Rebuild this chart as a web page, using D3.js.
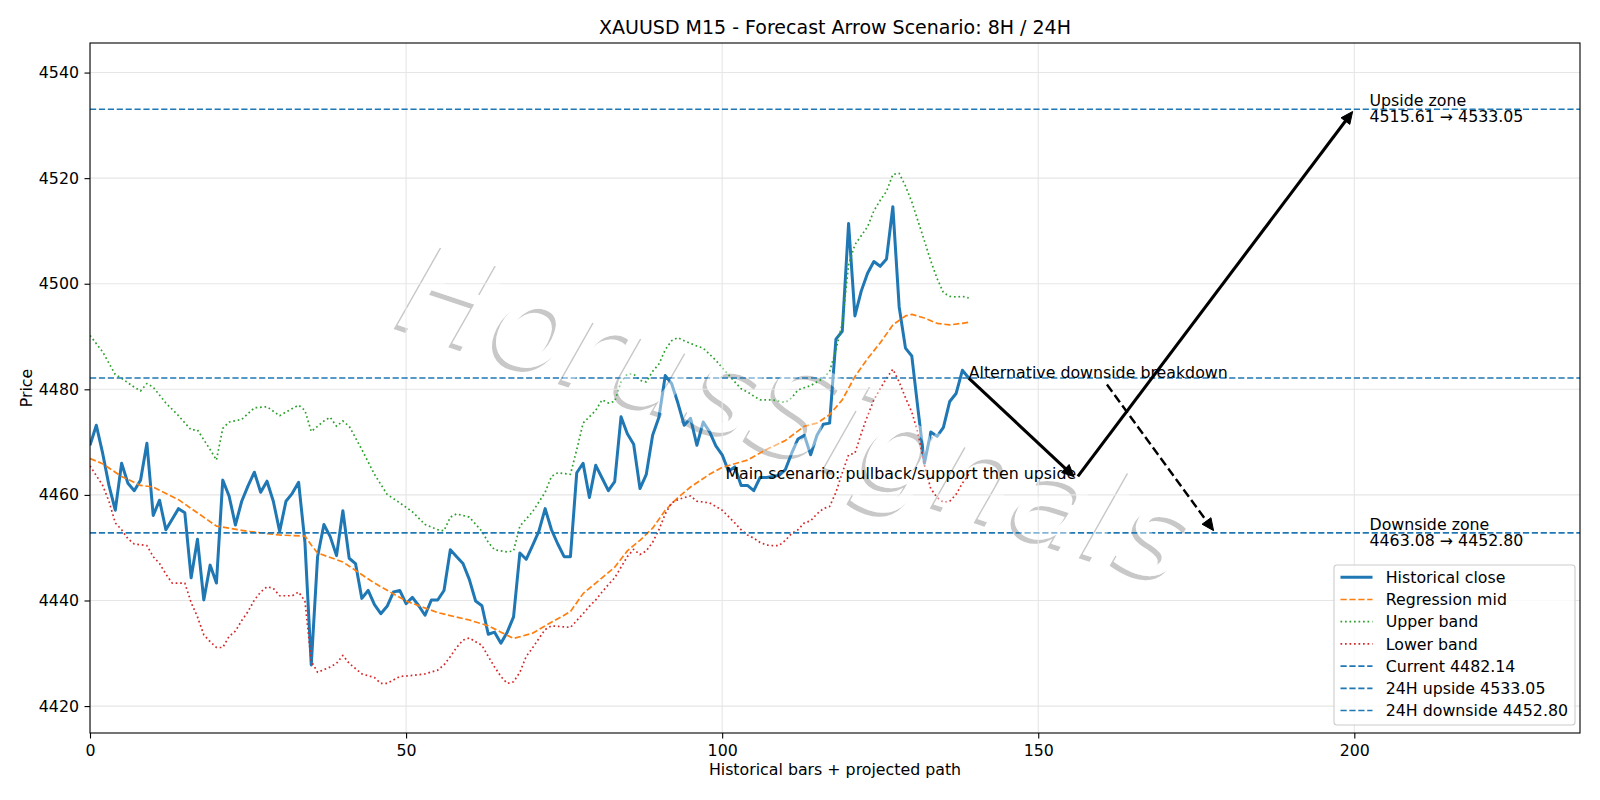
<!DOCTYPE html>
<meta charset="utf-8">
<style>
    body { margin: 0; background: #ffffff; }
    svg { display: block; font-family: "DejaVu Sans", sans-serif; }
</style>

<script src="https://d3js.org/d3.v7.min.js"></script>

<svg id="chart" width="1600" height="800"></svg>

<script>

// Data

var closeVals = [
    4469.4, 4473.2, 4467.9, 4461.8, 4457.1, 4466.0, 4462.2, 4460.8, 4462.8, 4469.8,
    4456.1, 4459.0, 4453.4, 4455.4, 4457.4, 4456.6, 4444.3, 4451.6, 4440.1, 4446.7,
    4443.3, 4462.8, 4459.8, 4454.3, 4458.8, 4461.7, 4464.3, 4460.5, 4462.6, 4458.8,
    4453.1, 4458.8, 4460.3, 4462.4, 4451.0, 4427.8, 4448.3, 4454.4, 4452.1, 4448.5,
    4457.0, 4448.0, 4447.0, 4440.4, 4441.9, 4439.2, 4437.5, 4438.9, 4441.6, 4441.9,
    4439.4, 4440.6, 4439.0, 4437.2, 4440.1, 4440.1, 4441.9, 4449.6, 4448.3, 4447.0,
    4444.0, 4439.9, 4439.0, 4433.6, 4434.0, 4431.9, 4434.0, 4436.9, 4449.0, 4447.8,
    4450.4, 4453.1, 4457.4, 4453.4, 4450.7, 4448.3, 4448.3, 4464.2, 4466.0, 4459.5,
    4465.6, 4463.2, 4460.8, 4462.5, 4474.8, 4471.6, 4469.6, 4461.2, 4463.9, 4471.3,
    4474.7, 4482.6, 4481.1, 4477.4, 4473.2, 4474.5, 4469.4, 4473.8, 4472.0, 4469.3,
    4467.6, 4464.5, 4465.3, 4461.8, 4461.8, 4460.8, 4463.3, 4463.3, 4463.5, 4463.7,
    4464.8, 4467.9, 4470.6, 4471.3, 4467.6, 4471.3, 4473.4, 4473.6, 4489.5, 4491.0,
    4511.4, 4493.9, 4498.6, 4502.0, 4504.2, 4503.3, 4504.7, 4514.6, 4495.6, 4487.8,
    4486.3, 4476.0, 4466.0, 4471.9, 4471.1, 4472.8, 4477.7, 4479.2, 4483.6, 4482.14
];

var midX = [0, 2, 5, 8, 10, 14, 20, 25, 30, 34, 35, 36, 40, 45, 50, 55, 60, 63, 65, 67,
    70, 72, 75, 76, 78, 80, 83, 85, 87, 89, 91, 93, 95, 98, 100, 104, 107, 110, 113, 115,
    117, 119, 121, 123, 125, 127, 129, 130, 132, 134, 136, 138, 139];
var midVals = [4466.9, 4465.9, 4463.5, 4461.8, 4461.5, 4459.1, 4454.1, 4453.1, 4452.4, 4452.2,
    4450.5, 4449.0, 4447.3, 4443.3, 4439.9, 4437.7, 4436.3, 4435.2, 4434.0, 4432.8,
    4433.8, 4435.2, 4437.2, 4437.9, 4441.3, 4443.3, 4446.3, 4449.4, 4451.4, 4453.7,
    4457.1, 4459.5, 4461.5, 4463.9, 4465.2, 4466.6, 4468.6, 4470.3, 4473.0, 4473.6,
    4475.2, 4478.0, 4482.4, 4485.8, 4488.8, 4492.2, 4493.9, 4494.2, 4493.5, 4492.5,
    4492.2, 4492.5, 4492.7];

var upperX = [0, 2, 4, 5, 7, 8, 9, 10, 12, 14, 16, 17, 19, 20, 21, 22, 24, 26, 28, 30,
    31, 33, 34, 35, 37, 38, 39, 40, 41, 43, 45, 47, 49, 51, 53, 55, 56, 57, 58, 60,
    62, 63, 64, 66, 67, 68, 70, 72, 73, 74, 76, 77, 78, 80, 81, 82, 83, 84, 85, 86,
    87, 88, 89, 90, 91, 92, 93, 94, 96, 97, 99, 100, 102, 103, 104, 105, 106, 108, 110, 111,
    112, 114, 116, 117, 118, 119, 120, 121, 122, 123, 124, 125, 126, 127, 128, 129, 130, 131, 132, 133,
    134, 135, 136, 137, 138, 139];
var upperVals = [4490.2, 4487.1, 4482.8, 4482.1, 4480.4, 4479.7, 4481.1, 4480.4, 4477.4, 4475.0,
    4472.3, 4472.3, 4468.6, 4466.6, 4472.6, 4473.8, 4474.3, 4476.5, 4476.7, 4475.0,
    4475.7, 4477.0, 4476.0, 4472.0, 4474.0, 4474.7, 4473.0, 4474.0, 4473.0, 4468.6,
    4463.9, 4460.1, 4458.5, 4456.8, 4454.4, 4453.4, 4453.2, 4455.8, 4456.4, 4455.8,
    4453.1, 4451.0, 4449.6, 4449.2, 4449.4, 4454.1, 4456.8, 4460.5, 4463.5, 4464.2,
    4463.9, 4468.6, 4473.6, 4476.0, 4478.0, 4477.4, 4477.7, 4481.4, 4482.9, 4482.9,
    4481.7, 4481.4, 4483.4, 4484.8, 4487.5, 4489.2, 4489.8, 4489.2, 4488.2, 4487.8,
    4485.5, 4484.1, 4481.4, 4480.1, 4479.5, 4478.7, 4478.0, 4478.0, 4477.5, 4478.4,
    4479.9, 4480.7, 4482.1, 4483.4, 4487.5, 4492.5, 4503.6, 4507.4, 4509.1, 4510.8,
    4513.8, 4515.8, 4517.5, 4520.7, 4520.9, 4518.5, 4515.5, 4511.8, 4508.1, 4504.3,
    4501.0, 4498.3, 4497.6, 4497.5, 4497.6, 4497.3];

var lowerX = [0, 2, 3, 4, 5, 6, 7, 9, 10, 11, 12, 13, 15, 16, 17, 18, 19, 20, 21, 22,
    23, 24, 25, 26, 27, 28, 29, 30, 32, 33, 34, 35, 36, 38, 39, 40, 41, 43, 45, 46,
    47, 49, 51, 53, 55, 56, 57, 58, 59, 60, 61, 62, 63, 64, 65, 66, 67, 68, 69, 70,
    71, 72, 73, 75, 76, 77, 78, 79, 80, 81, 82, 83, 84, 85, 86, 87, 88, 89, 90, 91,
    92, 93, 94, 95, 96, 98, 100, 102, 103, 104, 105, 106, 107, 108, 109, 110, 111, 112, 113, 114,
    115, 116, 117, 118, 119, 120, 121, 122, 123, 124, 125, 126, 127, 128, 129, 130, 131, 132, 133, 134,
    135, 136, 137, 138, 139];
var lowerVals = [4465.5, 4461.8, 4458.8, 4454.7, 4453.4, 4451.7, 4450.7, 4450.4, 4448.3, 4447.0,
    4445.0, 4443.3, 4443.3, 4439.6, 4436.9, 4433.5, 4432.2, 4431.1, 4431.1, 4433.2,
    4434.2, 4436.2, 4437.9, 4440.1, 4441.6, 4442.6, 4442.3, 4440.9, 4440.9, 4441.6,
    4439.9, 4428.5, 4426.4, 4427.4, 4428.1, 4429.6, 4428.1, 4426.1, 4425.4, 4424.3,
    4424.3, 4425.6, 4425.8, 4426.1, 4426.8, 4427.8, 4429.4, 4431.1, 4432.5, 4432.9,
    4432.2, 4431.5, 4429.4, 4427.4, 4425.6, 4424.3, 4424.6, 4426.4, 4429.4, 4431.0,
    4432.8, 4434.5, 4435.2, 4435.0, 4434.9, 4436.2, 4437.5, 4438.9, 4440.1, 4441.6,
    4443.0, 4444.3, 4446.3, 4448.3, 4449.7, 4448.7, 4449.4, 4451.0, 4453.4, 4456.4,
    4458.5, 4459.1, 4459.5, 4459.8, 4458.8, 4458.5, 4457.1, 4454.7, 4453.4, 4452.4,
    4451.8, 4451.0, 4450.5, 4450.4, 4450.4, 4451.4, 4452.7, 4453.4, 4454.7, 4455.1,
    4456.4, 4457.4, 4457.8, 4460.5, 4464.2, 4467.6, 4467.9, 4471.6, 4475.0, 4478.0,
    4480.1, 4482.1, 4483.8, 4481.4, 4478.4, 4475.7, 4471.6, 4465.6, 4461.2, 4459.5,
    4458.6, 4458.8, 4460.1, 4462.2, 4463.9];

var levelVals = [4482.14, 4533.05, 4452.80];
var levelNames = ['Current 4482.14', '24H upside 4533.05', '24H downside 4452.80'];

// projected path: current -> support -> upside target
var pathX = [139, 156, 200];
var pathVals = [4482.14, 4463.08, 4533.05];
var altX = 178;
var altVal = 4452.80;

var xTicks = [0, 50, 100, 150, 200];
var yTicks = [4420, 4440, 4460, 4480, 4500, 4520, 4540];


// Setup

var svg = d3.select('svg#chart');
var blue = '#1f77b4', orange = '#ff7f0e', green = '#2ca02c', red = '#d62728';
var fs = 15.8;

var plotLeft = 90, plotRight = 1580, plotTop = 43, plotBottom = 733;

var x = d3.scaleLinear().domain([0, 235.7]).range([plotLeft, plotRight]);
var y = d3.scaleLinear().domain([4414.9, 4545.6]).range([plotBottom, plotTop]);

svg.append('defs').append('clipPath').attr('id', 'plotclip')
    .append('rect')
    .attr('x', plotLeft).attr('y', plotTop)
    .attr('width', plotRight - plotLeft).attr('height', plotBottom - plotTop);

var plot = svg.append('g').attr('clip-path', 'url(#plotclip)');

// Watermark: white letters with a grey shadow; a second faint white copy goes over the lines
var wmX = 794, wmY = 425, wmSize = 126, wmAngle = 18.5, wmText = 'HorusSignals';
var watermark = function(dx, dy) {
    return plot.append('text')
        .attr('transform', 'translate(' + (wmX + dx) + ',' + (wmY + dy) + ') rotate(' + wmAngle + ')')
        .attr('text-anchor', 'middle').attr('y', wmSize * 0.245)
        .attr('font-size', wmSize).attr('font-style', 'italic')
        .text(wmText);
};
watermark(-4, 4).attr('fill', '#c8c8c8');
watermark(0, 0).attr('fill', '#ffffff');

// Grid
plot.selectAll('line.gx').data(xTicks).enter().append('line')
    .attr('x1', function(d) { return x(d); }).attr('x2', function(d) { return x(d); })
    .attr('y1', plotTop).attr('y2', plotBottom)
    .attr('stroke', '#e6e6e6').attr('stroke-width', 1.1);
plot.selectAll('line.gy').data(yTicks).enter().append('line')
    .attr('y1', function(d) { return y(d); }).attr('y2', function(d) { return y(d); })
    .attr('x1', plotLeft).attr('x2', plotRight)
    .attr('stroke', '#e6e6e6').attr('stroke-width', 1.1);

var line = d3.line().x(function(d) { return x(d[0]); }).y(function(d) { return y(d[1]); });
var zip = function(xs, vs) { return xs.map(function(v, i) { return [v, vs[i]]; }); };

var series = [
    { pts: closeVals.map(function(v, i) { return [i, v]; }), color: blue, width: 3.0, dash: null },
    { pts: zip(midX, midVals), color: orange, width: 1.7, dash: '6.2,2.7' },
    { pts: zip(upperX, upperVals), color: green, width: 1.7, dash: '1.7,2.8' },
    { pts: zip(lowerX, lowerVals), color: red, width: 1.7, dash: '1.7,2.8' }
];

series.forEach(function(s) {
    plot.append('path')
        .attr('d', line(s.pts))
        .attr('fill', 'none')
        .attr('stroke', s.color)
        .attr('stroke-width', s.width)
        .attr('stroke-dasharray', s.dash)
        .attr('stroke-linejoin', 'round');
});

// Horizontal levels
plot.selectAll('line.level').data(levelVals).enter().append('line')
    .attr('x1', plotLeft).attr('x2', plotRight)
    .attr('y1', function(d) { return y(d); }).attr('y2', function(d) { return y(d); })
    .attr('stroke', blue).attr('stroke-width', 1.7).attr('stroke-dasharray', '6.2,2.7');

watermark(0, 0).attr('fill', '#ffffff').attr('fill-opacity', 0.45);


// Arrows

var drawArrow = function(p0, p1, width, dash, shrinkA, shrinkB) {
    var dx = p1[0] - p0[0], dy = p1[1] - p0[1];
    var len = Math.sqrt(dx * dx + dy * dy);
    var ux = dx / len, uy = dy / len;
    var headLen = 12, headHalf = 5.5;
    var a = [p0[0] + ux * shrinkA, p0[1] + uy * shrinkA];
    var tip = [p1[0] - ux * shrinkB, p1[1] - uy * shrinkB];
    var base = [tip[0] - ux * headLen, tip[1] - uy * headLen];
    svg.append('line')
        .attr('x1', a[0]).attr('y1', a[1]).attr('x2', base[0] + ux * 2).attr('y2', base[1] + uy * 2)
        .attr('stroke', '#000').attr('stroke-width', width)
        .attr('stroke-dasharray', dash);
    svg.append('path')
        .attr('d', 'M' + tip + 'L' + [base[0] - uy * headHalf, base[1] + ux * headHalf]
            + 'L' + [base[0] + uy * headHalf, base[1] - ux * headHalf] + 'Z')
        .attr('fill', '#000').attr('stroke', '#000').attr('stroke-width', 1)
        .attr('stroke-linejoin', 'miter');
};

var pts = pathX.map(function(v, i) { return [x(v), y(pathVals[i])]; });
drawArrow(pts[0], pts[1], 3.1, null, 0, 2.8);
drawArrow(pts[1], pts[2], 3.1, null, 2.8, 2.8);

// Text annotations
var ann = svg.append('g').attr('font-size', fs).attr('fill', '#000');

var altText = ann.append('text')
    .attr('x', x(pathX[0])).attr('y', y(pathVals[0]))
    .text('Alternative downside breakdown');

// dashed alternative arrow leaves the label box towards the downside target
var bb = altText.node().getBBox();
var cx = bb.x + bb.width / 2, cy = bb.y + bb.height / 2;
var tx = x(altX), ty = y(altVal);
var t = (bb.y + bb.height - cy) / (ty - cy);
drawArrow([cx + (tx - cx) * t, cy + (ty - cy) * t], [tx, ty], 2.4, '9,4', 3, 2.8);

ann.append('text')
    .attr('x', x(pathX[1])).attr('y', y(pathVals[1]))
    .attr('text-anchor', 'end')
    .text('Main scenario: pullback/support then upside');

var zoneText = function(val, lines) {
    var tEl = ann.append('text').attr('x', x(202.4)).attr('y', y(val));
    tEl.append('tspan').attr('x', x(202.4)).attr('dy', -2.8).text(lines[0]);
    tEl.append('tspan').attr('x', x(202.4)).attr('dy', 16).text(lines[1]);
};
zoneText(levelVals[1], ['Upside zone', '4515.61 \u2192 4533.05']);
zoneText(levelVals[2], ['Downside zone', pathVals[1].toFixed(2) + ' \u2192 4452.80']);


// Axes

var xAxis = svg.append('g')
    .attr('transform', 'translate(0,' + plotBottom + ')')
    .call(d3.axisBottom(x).tickValues(xTicks).tickSize(5.5).tickSizeOuter(0).tickPadding(6.5));
var yAxis = svg.append('g')
    .attr('transform', 'translate(' + plotLeft + ',0)')
    .call(d3.axisLeft(y).tickValues(yTicks).tickFormat(d3.format('d')).tickSize(5.5).tickSizeOuter(0).tickPadding(5.5));

[xAxis, yAxis].forEach(function(ax) {
    ax.select('.domain').remove();
    ax.selectAll('line').attr('stroke', '#000').attr('stroke-width', 1.1);
    ax.selectAll('text').attr('font-size', fs).attr('font-family', 'DejaVu Sans').attr('fill', '#000');
});

svg.append('rect')
    .attr('x', plotLeft).attr('y', plotTop)
    .attr('width', plotRight - plotLeft).attr('height', plotBottom - plotTop)
    .attr('fill', 'none').attr('stroke', '#000').attr('stroke-width', 1.1);

svg.append('text')
    .attr('x', (plotLeft + plotRight) / 2).attr('y', 775)
    .attr('text-anchor', 'middle').attr('font-size', fs)
    .text('Historical bars + projected path');

svg.append('text')
    .attr('transform', 'translate(32,' + ((plotTop + plotBottom) / 2) + ') rotate(-90)')
    .attr('text-anchor', 'middle').attr('font-size', fs)
    .text('Price');

svg.append('text')
    .attr('x', (plotLeft + plotRight) / 2).attr('y', 34)
    .attr('text-anchor', 'middle').attr('font-size', 19)
    .text('XAUUSD M15 - Forecast Arrow Scenario: 8H / 24H');


// Legend

var legendItems = [
    { name: 'Historical close', color: blue, width: 3.0, dash: null },
    { name: 'Regression mid', color: orange, width: 1.7, dash: '6.2,2.7' },
    { name: 'Upper band', color: green, width: 1.7, dash: '1.7,2.8' },
    { name: 'Lower band', color: red, width: 1.7, dash: '1.7,2.8' }
].concat(levelNames.map(function(n) {
    return { name: n, color: blue, width: 1.7, dash: '6.2,2.7' };
}));

var legend = svg.append('g').attr('transform', 'translate(1334,565)');
legend.append('rect')
    .attr('width', 241).attr('height', 160).attr('rx', 3)
    .attr('fill', '#ffffff').attr('fill-opacity', 0.8)
    .attr('stroke', '#cccccc').attr('stroke-width', 1.1);

var rows = legend.selectAll('g.row').data(legendItems).enter().append('g')
    .attr('transform', function(d, i) { return 'translate(0,' + (12.3 + i * 22.2) + ')'; });
rows.append('line')
    .attr('x1', 6.5).attr('x2', 38.5)
    .attr('stroke', function(d) { return d.color; })
    .attr('stroke-width', function(d) { return d.width; })
    .attr('stroke-dasharray', function(d) { return d.dash; });
rows.append('text')
    .attr('x', 51.7).attr('dy', '0.36em')
    .attr('font-size', fs)
    .text(function(d) { return d.name; });

</script>
